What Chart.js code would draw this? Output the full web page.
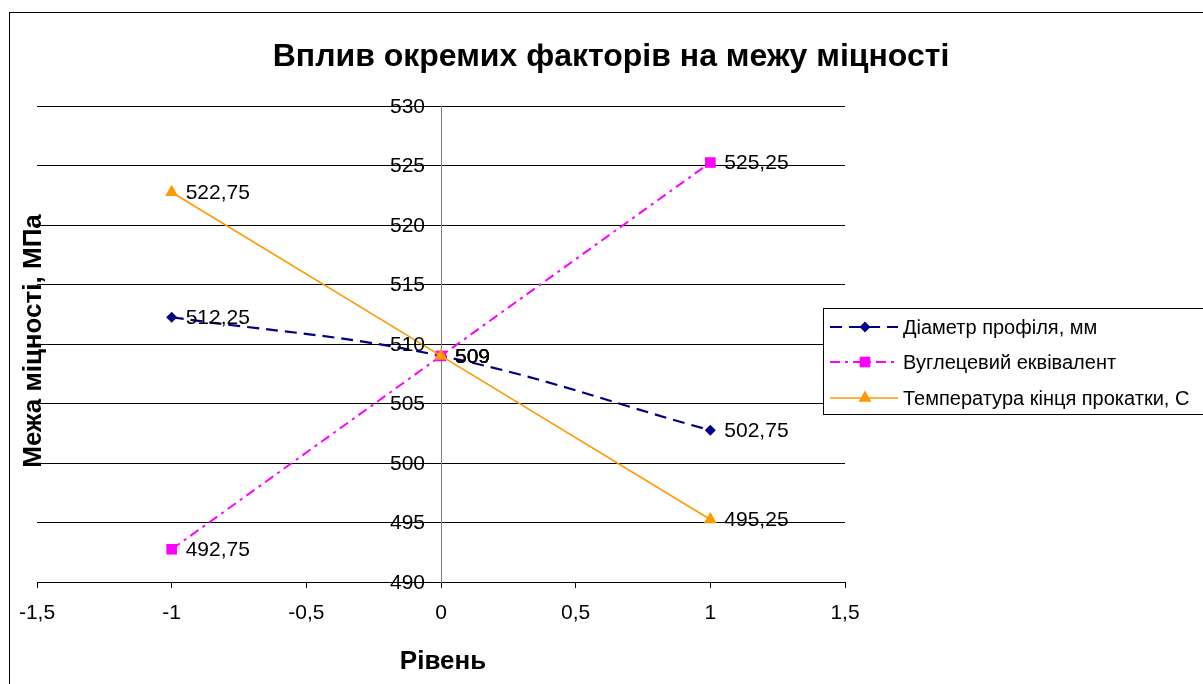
<!DOCTYPE html>
<html>
<head>
<meta charset="utf-8">
<script src="https://cdn.jsdelivr.net/npm/chart.js@4.4.0/dist/chart.umd.min.js"></script>
<style>
    html, body { margin: 0; padding: 0; background: #fff; }
</style>
</head>
<body>
<canvas id="chart" width="1203" height="684"></canvas>
<script>
const chartTitle = 'Вплив окремих факторів на межу міцності';
const xTitle = 'Рівень';
const yTitle = 'Межа міцності, МПа';
const seriesNames = ['Діаметр профіля, мм', 'Вуглецевий еквівалент', 'Температура кінця прокатки, С'];
const levels = [-1, 0, 1];
const diameterValues = [512.25, 509, 502.75];
const carbonValues = [492.75, 509, 525.25];
const temperatureValues = [522.75, 509, 495.25];
const xRange = [-1.5, 1.5];
const yRange = [490, 530];

const FONT = "'Liberation Sans', Arial, sans-serif";
const LABEL_SIZE = 21;

function toPoints(values) {
    return levels.map((x, i) => ({ x: x, y: values[i] }));
}

function comma(v) {
    return String(v).replace('.', ',');
}

// draws a marker like the ones on the lines (used for the legend)
function drawMarker(ctx, style, x, y, r, color) {
    ctx.save();
    ctx.fillStyle = color;
    ctx.beginPath();
    if (style === 'rectRot') {
        ctx.moveTo(x - r, y); ctx.lineTo(x, y - r); ctx.lineTo(x + r, y); ctx.lineTo(x, y + r);
    } else if (style === 'rect') {
        const s = r * Math.SQRT1_2;
        ctx.rect(x - s, y - s, 2 * s, 2 * s);
    } else {
        ctx.moveTo(x, y - r);
        ctx.lineTo(x + r * 0.866, y + r * 0.5);
        ctx.lineTo(x - r * 0.866, y + r * 0.5);
    }
    ctx.closePath();
    ctx.fill();
    ctx.restore();
}

const decorPlugin = {
    id: 'decor',
    afterDatasetsDraw(chart) {
        const ctx = chart.ctx;
        ctx.save();
        ctx.font = LABEL_SIZE + 'px ' + FONT;
        ctx.fillStyle = '#000';
        ctx.textBaseline = 'middle';

        // y tick labels sit left of the axis drawn at x = 0
        const ys = chart.scales.y;
        const axisX = chart.scales.x.getPixelForValue(0);
        ctx.textAlign = 'right';
        ys.ticks.forEach(t => {
            ctx.fillText(comma(t.value), axisX - 16, ys.getPixelForValue(t.value) + 1);
        });

        // data labels
        ctx.textAlign = 'left';
        chart.data.datasets.forEach((ds, di) => {
            const meta = chart.getDatasetMeta(di);
            meta.data.forEach((pt, i) => {
                ctx.fillText(comma(ds.data[i].y), pt.x + 14, pt.y + 1);
            });
        });
        ctx.restore();
    },
    afterDraw(chart) {
        const ctx = chart.ctx;
        ctx.save();
        // outer frame
        ctx.strokeStyle = '#000';
        ctx.lineWidth = 1;
        ctx.strokeRect(9.5, 12.5, 1300, 800);

        // titles
        ctx.fillStyle = '#000';
        ctx.textAlign = 'center';
        ctx.textBaseline = 'middle';
        ctx.font = 'bold 32px ' + FONT;
        ctx.fillText(chartTitle, 611, 57);
        ctx.font = 'bold 26px ' + FONT;
        ctx.fillText(xTitle, 443, 662);
        ctx.translate(34, 341);
        ctx.rotate(-Math.PI / 2);
        ctx.fillText(yTitle, 0, 0);
        ctx.restore();

        // legend box
        ctx.save();
        ctx.fillStyle = '#fff';
        ctx.strokeStyle = '#000';
        ctx.lineWidth = 1;
        ctx.fillRect(823.5, 308.5, 400, 106);
        ctx.strokeRect(823.5, 308.5, 400, 106);
        const rows = [327, 362, 398];
        chart.data.datasets.forEach((ds, di) => {
            const y = rows[di];
            ctx.save();
            ctx.strokeStyle = ds.borderColor;
            ctx.lineWidth = ds.borderWidth;
            ctx.setLineDash(ds.borderDash || []);
            ctx.beginPath();
            ctx.moveTo(830, y);
            ctx.lineTo(898, y);
            ctx.stroke();
            ctx.restore();
            drawMarker(ctx, ds.pointStyle, 865, y, ds.pointRadius, ds.pointBackgroundColor);
            ctx.fillStyle = '#000';
            ctx.font = '20px ' + FONT;
            ctx.textAlign = 'left';
            ctx.textBaseline = 'middle';
            ctx.fillText(ds.label, 903, y + 1);
        });
        ctx.restore();
    }
};

new Chart(document.getElementById('chart'), {
    type: 'scatter',
    data: {
        datasets: [
            {
                label: seriesNames[0],
                data: toPoints(diameterValues),
                showLine: true,
                tension: 0.4,
                borderColor: '#000080',
                backgroundColor: '#000080',
                pointBackgroundColor: '#000080',
                borderWidth: 2.2,
                borderDash: [12, 7],
                pointStyle: 'rectRot',
                pointRadius: 5.5,
                pointBorderWidth: 0,
                order: 2
            },
            {
                label: seriesNames[1],
                data: toPoints(carbonValues),
                showLine: true,
                borderColor: '#FF00FF',
                backgroundColor: '#FF00FF',
                pointBackgroundColor: '#FF00FF',
                borderWidth: 2,
                borderDash: [10, 5, 3, 5],
                pointStyle: 'rect',
                pointRadius: 7.5,
                pointBorderWidth: 0,
                order: 1
            },
            {
                label: seriesNames[2],
                data: toPoints(temperatureValues),
                showLine: true,
                borderColor: '#FF9900',
                backgroundColor: '#FF9900',
                pointBackgroundColor: '#FF9900',
                borderWidth: 1.6,
                pointStyle: 'triangle',
                pointRadius: 7.5,
                pointBorderWidth: 0,
                order: 0
            }
        ]
    },
    options: {
        responsive: false,
        animation: false,
        devicePixelRatio: 1,
        layout: { padding: { left: 37, top: 106, right: 358, bottom: 102 } },
        plugins: {
            legend: { display: false },
            tooltip: { enabled: false }
        },
        scales: {
            x: {
                type: 'linear',
                position: { y: 490 },
                min: xRange[0],
                max: xRange[1],
                ticks: {
                    stepSize: 0.5,
                    color: '#000',
                    font: { family: FONT, size: LABEL_SIZE },
                    padding: 14,
                    callback: v => comma(v)
                },
                grid: { drawOnChartArea: false, drawTicks: true, tickLength: 5, color: '#000' },
                border: { color: '#000', width: 1 }
            },
            y: {
                type: 'linear',
                position: { x: 0 },
                min: yRange[0],
                max: yRange[1],
                ticks: {
                    stepSize: 5,
                    display: false
                },
                grid: { color: '#000', drawTicks: false },
                border: { color: '#808080', width: 1 }
            }
        }
    },
    plugins: [decorPlugin]
});
</script>
</body>
</html>
